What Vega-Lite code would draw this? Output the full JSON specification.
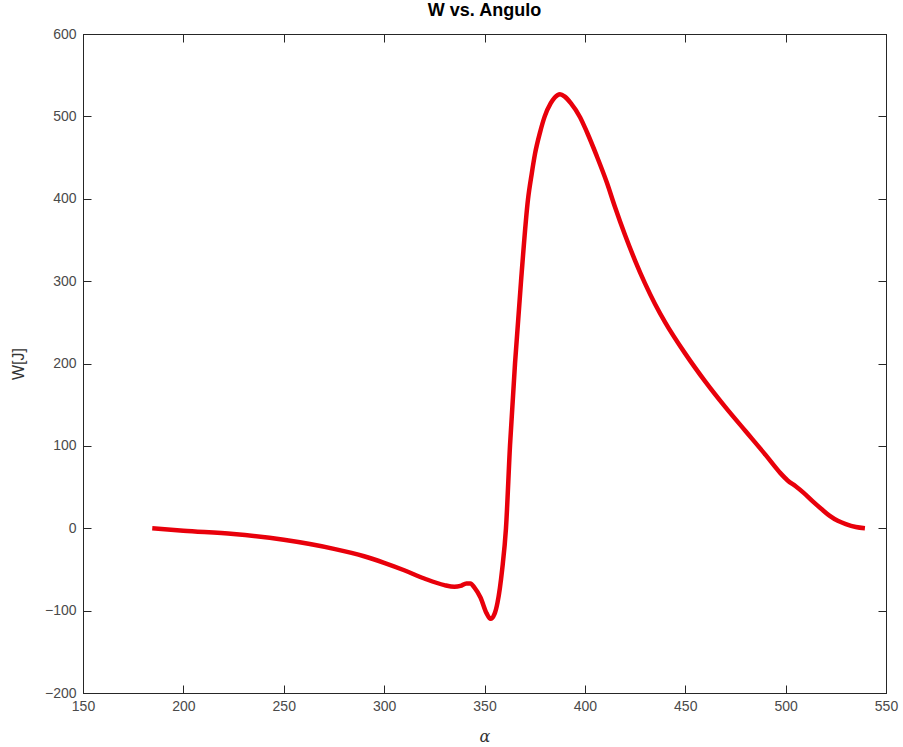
{
  "$schema": "https://vega.github.io/schema/vega-lite/v6.json",
  "width": 803,
  "height": 659,
  "autosize": "none",
  "padding": {"left": 83, "top": 34, "right": 17, "bottom": 54},
  "background": "white",
  "title": {"text": "W vs. Angulo", "font": "Liberation Sans", "fontSize": 18, "fontWeight": "bold", "color": "#000000", "anchor": "middle", "offset": 7},
  "config": {
    "view": {"stroke": "#262626", "strokeWidth": 1},
    "axis": {"grid": false, "domainColor": "#262626", "tickColor": "#262626", "labelFont": "Liberation Sans", "labelFontSize": 14, "labelColor": "#4a4a4a", "titleFont": "Liberation Sans", "titleFontSize": 16, "titleFontWeight": "normal", "titleColor": "#333333"}
  },
  "data": {"values": [
    {"a": 184.5, "w": 0},
    {"a": 200, "w": -3},
    {"a": 225, "w": -7},
    {"a": 250, "w": -14},
    {"a": 275, "w": -25},
    {"a": 290, "w": -34},
    {"a": 300, "w": -42},
    {"a": 310, "w": -51},
    {"a": 320, "w": -61},
    {"a": 330, "w": -69},
    {"a": 335, "w": -71},
    {"a": 338, "w": -70},
    {"a": 341, "w": -67},
    {"a": 343, "w": -67},
    {"a": 345, "w": -72},
    {"a": 348, "w": -84},
    {"a": 351, "w": -103},
    {"a": 353, "w": -110},
    {"a": 355, "w": -104},
    {"a": 356.5, "w": -90},
    {"a": 358.8, "w": -50},
    {"a": 360.7, "w": 0},
    {"a": 362.7, "w": 100},
    {"a": 365.2, "w": 200},
    {"a": 368.2, "w": 300},
    {"a": 371.7, "w": 400},
    {"a": 373.5, "w": 430},
    {"a": 375.2, "w": 455},
    {"a": 377.6, "w": 480},
    {"a": 380, "w": 500},
    {"a": 383, "w": 516},
    {"a": 385, "w": 523},
    {"a": 387.6, "w": 527},
    {"a": 390, "w": 524},
    {"a": 393, "w": 516},
    {"a": 397.6, "w": 499},
    {"a": 401, "w": 481},
    {"a": 405.9, "w": 452},
    {"a": 410.9, "w": 420},
    {"a": 415, "w": 390},
    {"a": 420, "w": 356},
    {"a": 425, "w": 325},
    {"a": 430, "w": 297},
    {"a": 435, "w": 272},
    {"a": 440, "w": 250},
    {"a": 450, "w": 212},
    {"a": 460, "w": 178},
    {"a": 470, "w": 147},
    {"a": 480, "w": 118},
    {"a": 490, "w": 89},
    {"a": 497, "w": 68},
    {"a": 501, "w": 58},
    {"a": 505, "w": 51},
    {"a": 509, "w": 43},
    {"a": 513.8, "w": 32},
    {"a": 518, "w": 23},
    {"a": 522, "w": 15},
    {"a": 526, "w": 9},
    {"a": 530, "w": 5},
    {"a": 535, "w": 1.5},
    {"a": 539.5, "w": 0}
  ]},
  "layer": [
    {
      "mark": {"type": "line", "color": "#e8000b", "strokeWidth": 4.5, "interpolate": "monotone", "clip": true},
      "encoding": {
        "x": {"field": "a", "type": "quantitative", "scale": {"domain": [150, 550], "nice": false, "zero": false},
              "axis": {"orient": "bottom", "title": "α", "titleFont": "DejaVu Serif", "titleFontStyle": "italic", "titleFontSize": 16, "titlePadding": 15, "values": [150,200,250,300,350,400,450,500,550], "tickSize": -8, "labelPadding": 14, "labelFlush": false}},
        "y": {"field": "w", "type": "quantitative", "scale": {"domain": [-200, 600], "nice": false, "zero": false},
              "axis": {"orient": "left", "title": "W[J]", "titlePadding": 18, "values": [-200,-100,0,100,200,300,400,500,600], "tickSize": -8, "labelPadding": 15}}
      }
    },
    {
      "mark": {"type": "line", "opacity": 0},
      "encoding": {
        "x": {"field": "a", "type": "quantitative", "scale": {"domain": [150, 550], "nice": false, "zero": false},
              "axis": {"orient": "top", "title": null, "labels": false, "values": [150,200,250,300,350,400,450,500,550], "tickSize": -8}},
        "y": {"field": "w", "type": "quantitative", "scale": {"domain": [-200, 600], "nice": false, "zero": false},
              "axis": {"orient": "right", "title": null, "labels": false, "values": [-200,-100,0,100,200,300,400,500,600], "tickSize": -8}}
      }
    }
  ],
  "resolve": {"axis": {"x": "independent", "y": "independent"}}
}
